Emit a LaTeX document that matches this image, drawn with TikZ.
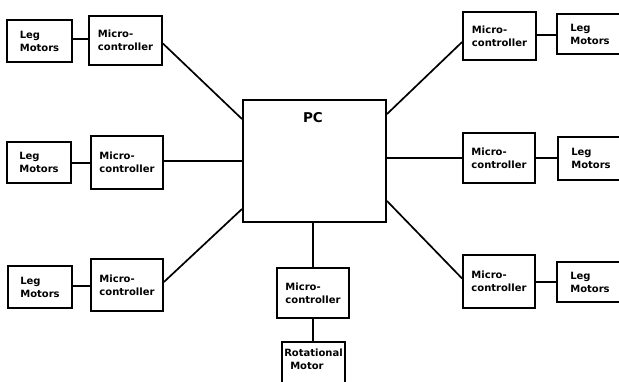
\documentclass[tikz,border=0pt]{standalone}
\usepackage{fontspec}
\setmainfont{DejaVu Sans}
\begin{document}
\begin{tikzpicture}[x=1pt,y=-1pt,
  every node/.style={font=\bfseries\fontsize{10}{13}\selectfont},
  blk/.style={draw,line width=1.8pt,rectangle,align=left,inner sep=0pt},
  micro/.style={blk,minimum width=72pt,minimum height=50pt},
  leg/.style={blk,minimum width=65pt,minimum height=42pt},
  wire/.style={line width=1.7pt}]
\useasboundingbox (0,0) rectangle (619,381);
\clip (0,0) rectangle (619,381);
\fill[white] (0,0) rectangle (619,381);

% central computer
\node[blk,minimum width=143pt,minimum height=122pt] (pc) at (314.5,161) {};
\node[font=\bfseries\fontsize{13.5}{16}\selectfont] (pclabel) at (313,118) {PC};

% left column
\node[leg,minimum height=42pt] (tll) at (39.5,41) {Leg\\Motors};
\node[micro,minimum width=73pt,minimum height=49pt] (tlm) at (125.5,40.5) {Micro-\\controller};
\node[leg,minimum width=64pt,minimum height=41pt] (mll) at (39,162.5) {Leg\\Motors};
\node[micro,minimum height=53pt] (mlm) at (127,162.5) {Micro-\\controller};
\node[leg,minimum width=64pt] (bll) at (40,287) {Leg\\Motors};
\node[micro,minimum height=52pt] (blm) at (127,285) {Micro-\\controller};

% right column
\node[micro,minimum width=73pt,minimum height=48pt] (trm) at (499.5,36) {Micro-\\controller};
\node[leg,minimum width=66pt,minimum height=40pt] (trl) at (590,34) {Leg\\Motors};
\node[micro] (mrm) at (499,158) {Micro-\\controller};
\node[leg,minimum width=66pt,minimum height=43pt] (mrl) at (591,158.5) {Leg\\Motors};
\node[micro,minimum height=53pt] (brm) at (499,281.5) {Micro-\\controller};
\node[leg,minimum width=66pt,minimum height=40pt] (brl) at (590,282) {Leg\\Motors};

% bottom chain
\node[micro] (bm) at (313,293) {Micro-\\controller};
\node[blk,minimum width=63pt,minimum height=48pt,text depth=14pt] (rot) at (313.5,366) {Rotational\\\hspace{6pt}Motor};

% links between motors and controllers
\draw[wire] (tll.east |- 0,39) -- (tlm.west |- 0,39);
\draw[wire] (mll.east |- 0,163) -- (mlm.west |- 0,163);
\draw[wire] (bll.east |- 0,286) -- (blm.west |- 0,286);
\draw[wire] (trm.east |- 0,35) -- (trl.west |- 0,35);
\draw[wire] (mrm.east |- 0,158) -- (mrl.west |- 0,158);
\draw[wire] (brm.east |- 0,282) -- (brl.west |- 0,282);

% links between controllers and the PC
\draw[wire] ([yshift=-3pt]tlm.east) -- ([yshift=-20pt]pc.north west);
\draw[wire] (mlm.east |- 0,161) -- (pc.west |- 0,161);
\draw[wire] ([yshift=14pt]pc.south west) -- ([yshift=3pt]blm.east);
\draw[wire] ([yshift=-6pt]trm.west) -- ([yshift=-15pt]pc.north east);
\draw[wire] (mrm.west |- 0,158) -- (pc.east |- 0,158);
\draw[wire] ([yshift=22pt]pc.south east) -- ([yshift=3pt]brm.west);
\draw[wire] (pc.south -| bm.north) -- (bm.north);
\draw[wire] (bm.south) -- (bm.south |- rot.north);
\end{tikzpicture}
\end{document}
